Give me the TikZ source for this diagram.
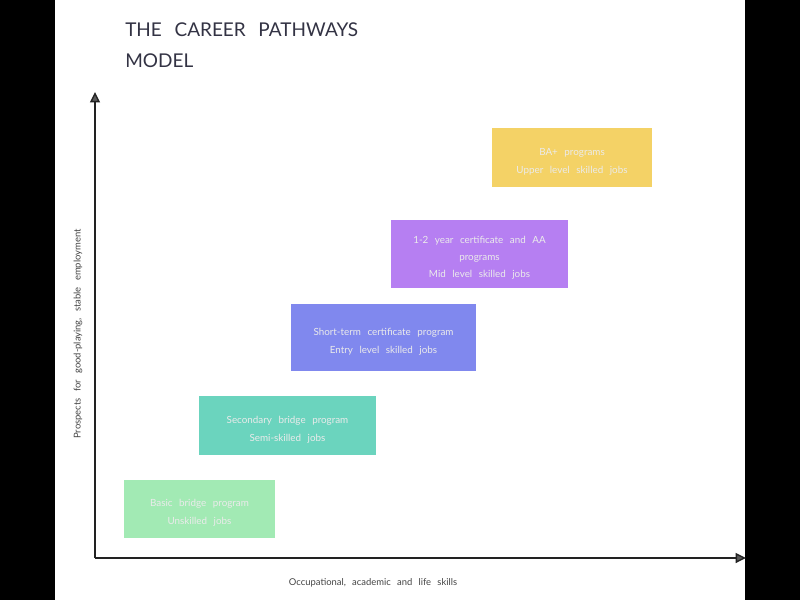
\documentclass[tikz,border=0pt]{standalone}
\usepackage{fontspec}
\setmainfont{Lato}[WordSpace=2.6]
\usepackage{tikz}
\usetikzlibrary{arrows.meta, positioning}
\definecolor{cpbasic}{HTML}{A2EAB4}
\definecolor{cpsecond}{HTML}{6BD4BE}
\definecolor{cpshort}{HTML}{8088EE}
\definecolor{cpyear}{HTML}{B67FF2}
\definecolor{cpba}{HTML}{F4D266}
\definecolor{cpaxis}{HTML}{222222}
\definecolor{cptitle}{HTML}{333344}
\definecolor{cplabel}{HTML}{444444}
\newcommand{\stagetop}{\rule{0pt}{10.8pt}}

\begin{document}
\begin{tikzpicture}[
    x=0.25mm, y=-0.25mm,
    stage/.style={rectangle, inner sep=0pt, align=center, text=white!92!black, font=\fontsize{7}{12.8}\selectfont},
    axis/.style={-{Triangle[length=2.6mm, width=2.5mm, fill=black!65]}, line width=1pt, cpaxis},
    axislabel/.style={text=cplabel, font=\fontsize{6.7}{8}\selectfont},
    heading/.style={anchor=base west, text=cptitle, inner sep=0pt, font=\fontsize{13.5}{16}\selectfont}
]
\useasboundingbox (0,0) rectangle (800,600);
\fill[white] (0,0) rectangle (800,600);
\fill[black] (0,0) rectangle (55,600);
\fill[black] (745,0) rectangle (800,600);

% Title
\node[heading] (title1) at (125,36) {THE CAREER PATHWAYS};
\node[heading] (title2) at (125,67) {MODEL};

% Axes
\coordinate (origin) at (95,558);
\coordinate (ytip) at (95,92);
\coordinate (xtip) at (746,558);
\draw[axis] (origin) -- (ytip);
\draw[axis] (origin) -- (xtip);
\node[axislabel, rotate=90] (ylabel) at (78,334) {Prospects for good-playing, stable employment};
\node[axislabel] (xlabel) at (373,583) {Occupational, academic and life skills};

% Stages
\node[stage, fill=cpbasic, minimum width=3.775cm, minimum height=1.45cm] (basic) at (199.5,509) {\stagetop Basic bridge program\\Unskilled jobs};
\node[stage, fill=cpsecond, minimum width=4.425cm, minimum height=1.475cm] (second) at (287.5,425.5) {\stagetop Secondary bridge program\\Semi-skilled jobs};
\node[stage, fill=cpshort, minimum width=4.625cm, minimum height=1.675cm] (short) at (383.5,337.5) {\stagetop Short-term certificate program\\Entry level skilled jobs};
\node[stage, fill=cpyear, minimum width=4.425cm, minimum height=1.7cm, font=\fontsize{7}{12}\selectfont] (year) at (479.5,254) {\stagetop 1-2 year certificate and AA\\programs\\Mid level skilled jobs};
\node[stage, fill=cpba, minimum width=4cm, minimum height=1.475cm] (ba) at (572,157.5) {\stagetop BA+ programs\\Upper level skilled jobs};

\end{tikzpicture}
\end{document}
